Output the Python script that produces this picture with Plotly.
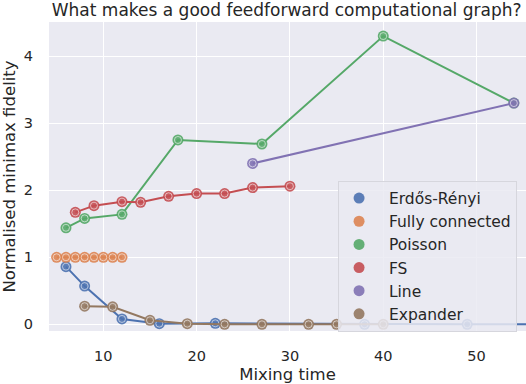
import plotly.graph_objects as go

# series
er_x = [6, 8, 12, 16, 22, 38, 49, 60]
er_y = [0.86, 0.57, 0.08, 0.01, 0.015, 0.0, 0.0, 0.0]

fc_x = [5, 6, 7, 8, 9, 10, 11, 12]
fc_y = [1, 1, 1, 1, 1, 1, 1, 1]

poi_x = [6, 8, 12, 18, 27, 40, 54]
poi_y = [1.44, 1.58, 1.64, 2.75, 2.69, 4.30, 3.30]

fs_x = [7, 9, 12, 14, 17, 20, 23, 26, 30]
fs_y = [1.67, 1.77, 1.83, 1.82, 1.91, 1.95, 1.95, 2.04, 2.06]

line_x = [26, 54]
line_y = [2.40, 3.30]

exp_x = [8, 11, 15, 19, 23, 27, 32, 35, 40]
exp_y = [0.27, 0.26, 0.06, 0.01, 0.0, 0.0, 0.0, 0.0, 0.0]

series = [
    ("Erdős-Rényi", er_x, er_y, "#4C72B0"),
    ("Fully connected", fc_x, fc_y, "#DD8452"),
    ("Poisson", poi_x, poi_y, "#55A868"),
    ("FS", fs_x, fs_y, "#C44E52"),
    ("Line", line_x, line_y, "#8172B3"),
    ("Expander", exp_x, exp_y, "#937860"),
]

fig = go.Figure()
for name, xs, ys, col in series:
    fig.add_trace(go.Scatter(
        x=xs, y=ys, mode="lines", legendgroup=name, showlegend=False,
        line=dict(color=col, width=2), hoverinfo="skip",
    ))
    # legend shows only the marker, like the reference
    fig.add_trace(go.Scatter(
        x=xs, y=ys, name="\u00a0\u00a0" + name, mode="markers", legendgroup=name,
        marker=dict(size=11, color=col, opacity=0.9, line=dict(width=0)),
    ))
    # thin pale ring inside each marker
    fig.add_trace(go.Scatter(
        x=xs, y=ys, mode="markers", legendgroup=name, showlegend=False,
        hoverinfo="skip",
        marker=dict(size=7, symbol="circle-open", color="rgba(255,255,255,0.7)",
                    line=dict(width=0.8)),
    ))

fig.update_layout(
    width=526, height=384,
    margin=dict(l=49, r=0, t=22, b=53, autoexpand=False),
    paper_bgcolor="white", plot_bgcolor="#EAEAF2",
    font=dict(family="DejaVu Sans", size=14, color="#262626"),
    title=dict(text="What makes a good feedforward computational graph?",
               x=0.545, xanchor="center", y=0.99, yanchor="top",
               font=dict(size=17, color="#262626"), automargin=False),
    legend=dict(x=0.606, y=0.487, xanchor="left", yanchor="top",
                bgcolor="rgba(234,234,242,0.85)", bordercolor="#d6d6dd", borderwidth=1,
                font=dict(size=15.5), tracegroupgap=0, itemwidth=30),
    showlegend=True,
)
fig.update_xaxes(range=[4.18, 55.3], tickvals=[10, 20, 30, 40, 50], automargin=False,
                 gridcolor="white", gridwidth=1.3, zeroline=False, showline=False,
                 ticks="outside", ticklen=12, tickcolor="rgba(0,0,0,0)",
                 title=dict(text="Mixing time", font=dict(size=16.5), standoff=6),
                 tickfont=dict(size=14.5))
fig.update_yaxes(range=[-0.1, 4.51], tickvals=[0, 1, 2, 3, 4], automargin=False,
                 gridcolor="white", gridwidth=1.3, zeroline=False, showline=False,
                 ticks="outside", ticklen=12, tickcolor="rgba(0,0,0,0)",
                 title=dict(text="Normalised minimax fidelity", font=dict(size=16.5), standoff=6),
                 tickfont=dict(size=14.5))

# the page body has a default 8px margin; drop it so the figure sits at the corner
fig.write_html("out.html", config={"displayModeBar": False},
               post_script="document.body.style.margin='0';")
